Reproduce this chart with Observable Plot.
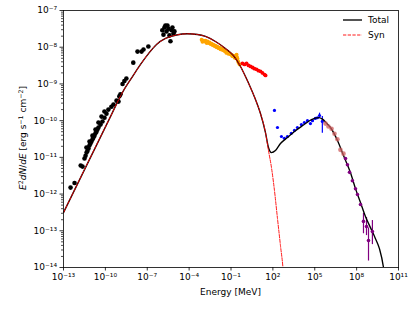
<!DOCTYPE html>
<html><head><meta charset="utf-8">
<script src="https://cdn.jsdelivr.net/npm/d3@7"></script>
<script src="https://cdn.jsdelivr.net/npm/@observablehq/plot@0.6"></script>
<style>body{margin:0;background:#fff}#chart{width:415px;height:311px}</style>
</head><body><div id="chart"></div>
<script>
// ---- model curves (Energy in MeV, E^2 dN/dE in erg s^-1 cm^-2) ----
const synE = [1e-13, 1.68e-10, 1.99e-9, 8.8e-9, 3.3e-8, 1.23e-7, 4.6e-7, 2.03e-6, 1.24e-5, 7.6e-5, 3.97e-4, 1.49e-3, 7.7e-3, 4.0e-2, 0.151, 0.478, 1.09, 2.48, 5.67, 12.9, 29.5, 48.4, 79.4, 130, 214, 350, 525, 617];
const synF = [3.13e-13, 1.0e-10, 6.6e-10, 1.59e-9, 3.4e-9, 6.7e-9, 1.19e-8, 1.73e-8, 2.15e-8, 2.32e-8, 2.22e-8, 1.96e-8, 1.43e-8, 9.2e-9, 5.9e-9, 2.98e-9, 1.59e-9, 7.98e-10, 3.76e-10, 1.56e-10, 4.74e-11, 1.53e-11, 5.27e-12, 1.25e-12, 2.15e-13, 3.95e-14, 1.0e-14, 4.4e-15];
const totE = [1e-13, 1.68e-10, 1.99e-9, 8.8e-9, 3.3e-8, 1.23e-7, 4.6e-7, 2.03e-6, 1.24e-5, 7.6e-5, 3.97e-4, 1.49e-3, 7.7e-3, 4.0e-2, 0.151, 0.478, 1.09, 2.48, 5.67, 12.9, 29.5, 48.4, 79.4, 153, 350, 1110, 3520, 1.56e4, 5.8e4, 1.85e5, 3.57e5, 6.9e5, 1.34e6, 4.25e6, 1.15e7, 3.6e7, 8.3e7, 1.89e8, 4.3e8, 9.8e8, 2.24e9, 4.3e9, 8.4e9, 1e10];
const totF = [3.13e-13, 1.0e-10, 6.6e-10, 1.59e-9, 3.4e-9, 6.7e-9, 1.19e-8, 1.73e-8, 2.15e-8, 2.32e-8, 2.22e-8, 1.96e-8, 1.43e-8, 9.2e-9, 5.9e-9, 2.98e-9, 1.59e-9, 7.98e-10, 3.76e-10, 1.56e-10, 4.74e-11, 1.85e-11, 1.35e-11, 1.53e-11, 2.38e-11, 3.47e-11, 5.05e-11, 7.6e-11, 1.07e-10, 1.21e-10, 1.1e-10, 8.6e-11, 6.5e-11, 2.87e-11, 1.12e-11, 3.85e-12, 1.41e-12, 5.86e-13, 2.44e-13, 1.22e-13, 6.1e-14, 3.27e-14, 1.0e-14, 6e-15];

// ---- observed data ----
const blackE = [3.2e-13, 6.2e-13, 1.7e-12, 2.3e-12, 3.2e-12, 3.8e-12, 4.5e-12, 5.2e-12, 6.2e-12, 7.2e-12, 8.5e-12, 1.0e-11, 1.2e-11, 1.4e-11, 1.65e-11, 1.95e-11, 2.3e-11, 2.7e-11, 3.2e-11, 4.5e-11, 6.2e-11, 8.7e-11, 1.2e-10, 1.65e-10, 2.7e-10, 3.8e-10, 6.3e-10, 8.7e-10, 1.0e-9, 1.2e-9, 1.7e-9, 2.3e-9, 3.2e-9, 1.0e-8, 2.0e-8, 3.9e-8, 5.4e-8, 1.2e-7, 1.2e-6, 1.45e-6, 1.7e-6, 2.0e-6, 2.4e-6, 2.8e-6, 3.3e-6, 3.9e-6, 4.6e-6, 5.5e-6, 6.4e-6, 7.6e-6, 8.9e-6, 4.4e-12, 7.3e-12, 1.19e-11, 1.96e-11, 3.2e-11, 5.3e-11, 8.6e-11];
const blackF = [1.5e-12, 2.0e-12, 6.0e-12, 5.6e-12, 9.3e-12, 1.1e-11, 1.35e-11, 1.5e-11, 1.75e-11, 2.1e-11, 2.4e-11, 2.7e-11, 3.1e-11, 3.5e-11, 3.9e-11, 4.5e-11, 5.0e-11, 5.7e-11, 6.5e-11, 7.8e-11, 9.5e-11, 1.2e-10, 1.55e-10, 2.0e-10, 2.4e-10, 2.75e-10, 3.5e-10, 3.3e-10, 4.6e-10, 5.2e-10, 1.0e-9, 1.2e-9, 1.4e-9, 3.8e-9, 7.6e-9, 7.6e-9, 8.7e-9, 1.05e-8, 2.9e-8, 2.2e-8, 3.45e-8, 3.9e-8, 2.7e-8, 3.9e-8, 3.2e-8, 2.1e-8, 1.45e-8, 2.9e-8, 3.45e-8, 2.35e-8, 2.7e-8, 1.85e-11, 2.7e-11, 3.9e-11, 5.7e-11, 8.9e-11, 1.29e-10, 1.77e-10];
const orangeE = [7.8e-4, 9e-4, 1.07e-3, 1.3e-3, 1.5e-3, 1.8e-3, 2.1e-3, 2.5e-3, 2.9e-3, 3.4e-3, 4.0e-3, 4.7e-3, 5.5e-3, 6.5e-3, 7.7e-3, 9e-3, 1.07e-2, 1.25e-2, 1.5e-2, 1.75e-2, 2.1e-2, 2.5e-2, 2.9e-2, 3.4e-2, 4.0e-2, 4.7e-2, 5.6e-2, 6.5e-2, 7.7e-2, 9e-2, 0.107, 0.125, 0.15, 0.18, 0.21, 0.23, 0.25, 0.27, 0.29, 0.32, 0.35, 0.41];
const orangeF = [1.6e-8, 1.4e-8, 1.5e-8, 1.42e-8, 1.5e-8, 1.3e-8, 1.44e-8, 1.3e-8, 1.35e-8, 1.22e-8, 1.26e-8, 1.15e-8, 1.18e-8, 1.08e-8, 1.11e-8, 1.0e-8, 1.04e-8, 9.4e-9, 9.8e-9, 8.8e-9, 9.2e-9, 8.4e-9, 8.7e-9, 7.9e-9, 7.6e-9, 7.0e-9, 7.2e-9, 6.6e-9, 6.8e-9, 6.4e-9, 6.3e-9, 5.7e-9, 5.9e-9, 5.2e-9, 5.6e-9, 5.0e-9, 6.3e-9, 5.4e-9, 4.9e-9, 4.2e-9, 3.8e-9, 3.4e-9];
const orangeErrE = [0.29];
const orangeErrLo = [3.6e-9];
const orangeErrHi = [6.7e-9];
const redE = [0.66, 0.93, 1.3, 1.8, 2.5, 3.5, 4.8, 6.7, 9.3, 13, 18, 25, 30];
const redF = [3.6e-9, 3.4e-9, 3.6e-9, 3.2e-9, 3.0e-9, 2.8e-9, 2.6e-9, 2.5e-9, 2.3e-9, 2.2e-9, 2.0e-9, 1.8e-9, 1.7e-9];
const blueE = [130, 213, 410, 670, 1100, 2100, 3500, 5700, 1.1e4, 1.8e4, 3.0e4, 4.9e4, 6.9e4, 1.1e5, 1.55e5, 2.2e5, 3.5e5];
const blueF = [1.9e-10, 6.5e-11, 3.7e-11, 3.3e-11, 3.7e-11, 4.5e-11, 5.4e-11, 6.5e-11, 7.8e-11, 8.9e-11, 1.0e-10, 8.3e-11, 1.0e-10, 1.15e-10, 1.2e-10, 1.38e-10, 9.5e-11];
const blueErrE = [2.2e5, 3.5e5];
const blueErrLo = [1.15e-10, 4.5e-11];
const blueErrHi = [1.6e-10, 1.3e-10];
const irE = [5.9e5, 9.6e5, 1.6e6, 2.6e6, 4.2e6, 6.9e6, 1.15e7];
const irF = [8.3e-11, 6.9e-11, 6.0e-11, 4.4e-11, 3.1e-11, 1.6e-11, 1.26e-11];
const purE = [1.6e7, 2.2e7, 3.1e7, 5.0e7, 8.3e7, 1.15e8, 1.9e8, 3.1e8, 5.1e8, 7.1e8, 1.35e9];
const purF = [9.3e-12, 6.3e-12, 3.9e-12, 2.3e-12, 1.4e-12, 9.7e-13, 5.2e-13, 1.8e-13, 1.3e-13, 5.4e-14, 9.5e-14];
const purErrE = [3.1e8, 5.1e8, 7.1e8, 1.35e9];
const purErrLo = [8.3e-14, 7.4e-14, 1.5e-14, 4.2e-14];
const purErrHi = [3.0e-13, 2.3e-13, 1.2e-13, 1.9e-13];

// ---- axes ----
const xTickExp = [-13, -10, -7, -4, -1, 2, 5, 8, 11];
const yTickExp = [-14, -13, -12, -11, -10, -9, -8, -7];
const legendLabels = ["Total", "Syn"];
const xLabel = "Energy [MeV]";

const pts = (E, F) => E.map((e, i) => ({E: e, F: F[i]}));
const errs = (E, lo, hi) => E.map((e, i) => ({E: e, lo: lo[i], hi: hi[i]}));
const supMap = {"-": "⁻", "0": "⁰", "1": "¹", "2": "²", "3": "³", "4": "⁴", "5": "⁵", "6": "⁶", "7": "⁷", "8": "⁸", "9": "⁹"};
const pow10 = n => "10" + String(n).split("").map(c => supMap[c]).join("");

const xTicks = xTickExp.map(n => Math.pow(10, n));
const yTicks = yTickExp.map(n => Math.pow(10, n));
const yMinor = [];
for (let n = -14; n < -7; n++) for (let k = 2; k <= 9; k++) yMinor.push(k * Math.pow(10, n));

const chart = Plot.plot({
  width: 415, height: 311,
  marginLeft: 63, marginRight: 17, marginTop: 10, marginBottom: 44,
  style: {fontFamily: "DejaVu Sans", fontSize: "9px", background: "white", color: "black"},
  x: {type: "log", domain: [1e-13, 1e11]},
  y: {type: "log", domain: [1e-14, 1e-7]},
  marks: [
    Plot.axisY(yMinor, {tickSize: 2, tickFormat: () => "", label: null, strokeWidth: 0.7}),
    Plot.axisY(yTicks, {tickSize: 3.5, tickPadding: 3, tickFormat: d => pow10(Math.round(Math.log10(d))), label: null, fontSize: 9, strokeWidth: 0.8}),
    Plot.axisX(xTicks, {tickSize: 3.5, tickPadding: 3, tickFormat: d => pow10(Math.round(Math.log10(d))), label: null, fontSize: 9, strokeWidth: 0.8}),
    Plot.dot(pts(blackE, blackF), {x: "E", y: "F", r: 2.3, fill: "black", stroke: "none", clip: true}),
    Plot.dot(pts(orangeE, orangeF), {x: "E", y: "F", r: 1.9, fill: "orange", stroke: "none", clip: true}),
    Plot.ruleX(errs(orangeErrE, orangeErrLo, orangeErrHi), {x: "E", y1: "lo", y2: "hi", stroke: "orange", strokeWidth: 1.2}),
    Plot.dot(pts(redE, redF), {x: "E", y: "F", r: 1.9, fill: "red", stroke: "none", clip: true}),
    Plot.dot(pts(blueE, blueF), {x: "E", y: "F", r: 1.6, fill: "blue", stroke: "none", clip: true}),
    Plot.ruleX(errs(blueErrE, blueErrLo, blueErrHi), {x: "E", y1: "lo", y2: "hi", stroke: "blue", strokeWidth: 1.2}),
    Plot.ruleX(errs(purErrE, purErrLo, purErrHi), {x: "E", y1: "lo", y2: "hi", stroke: "purple", strokeWidth: 1.2, clip: true}),
    Plot.line(pts(totE, totF), {x: "E", y: "F", stroke: "black", strokeWidth: 1.35, curve: "monotone-x", clip: true}),
    Plot.line(pts(synE, synF), {x: "E", y: "F", stroke: "red", strokeWidth: 0.9, strokeDasharray: "3.3,1.4", curve: "monotone-x", clip: true}),
    Plot.dot(pts(irE, irF), {x: "E", y: "F", r: 2.3, fill: "#cd5c5c", fillOpacity: 0.75, stroke: "none", clip: true}),
    Plot.dot(pts(purE, purF), {x: "E", y: "F", r: 1.8, fill: "purple", stroke: "none", clip: true}),
    Plot.frame({stroke: "black", strokeWidth: 0.8})
  ]
});
document.getElementById("chart").appendChild(chart);

const svg = d3.select(chart);
// x label
svg.append("text").attr("x", 230.5).attr("y", 295).attr("text-anchor", "middle")
  .attr("font-family", "DejaVu Sans").attr("font-size", 9).attr("fill", "black").text(xLabel);
// y label
const yl = svg.append("text").attr("transform", "translate(26,138) rotate(-90)").attr("text-anchor", "middle")
  .attr("font-family", "DejaVu Sans").attr("font-size", 9).attr("fill", "black");
yl.append("tspan").attr("font-style", "italic").text("E");
yl.append("tspan").attr("font-size", 6.3).attr("dy", -3.5).text("2");
yl.append("tspan").attr("dy", 3.5).attr("font-style", "italic").text("dN");
yl.append("tspan").text("/");
yl.append("tspan").attr("font-style", "italic").text("dE");
yl.append("tspan").text(" [erg s");
yl.append("tspan").attr("font-size", 6.3).attr("dy", -3.5).text("−1");
yl.append("tspan").attr("dy", 3.5).text(" cm");
yl.append("tspan").attr("font-size", 6.3).attr("dy", -3.5).text("−2");
yl.append("tspan").attr("dy", 3.5).text("]");
// legend
const lg = svg.append("g").attr("text-anchor", "start");
lg.append("line").attr("x1", 343).attr("x2", 362).attr("y1", 20).attr("y2", 20).attr("stroke", "black").attr("stroke-width", 1.35);
lg.append("line").attr("x1", 343).attr("x2", 362).attr("y1", 35).attr("y2", 35).attr("stroke", "red").attr("stroke-width", 0.9).attr("stroke-dasharray", "3.3,1.4");
lg.append("text").attr("x", 368).attr("y", 23.2).attr("text-anchor", "start").attr("font-family", "DejaVu Sans").attr("font-size", 9).attr("fill", "black").text(legendLabels[0]);
lg.append("text").attr("x", 368).attr("y", 38.2).attr("text-anchor", "start").attr("font-family", "DejaVu Sans").attr("font-size", 9).attr("fill", "black").text(legendLabels[1]);
</script>
</body></html>
